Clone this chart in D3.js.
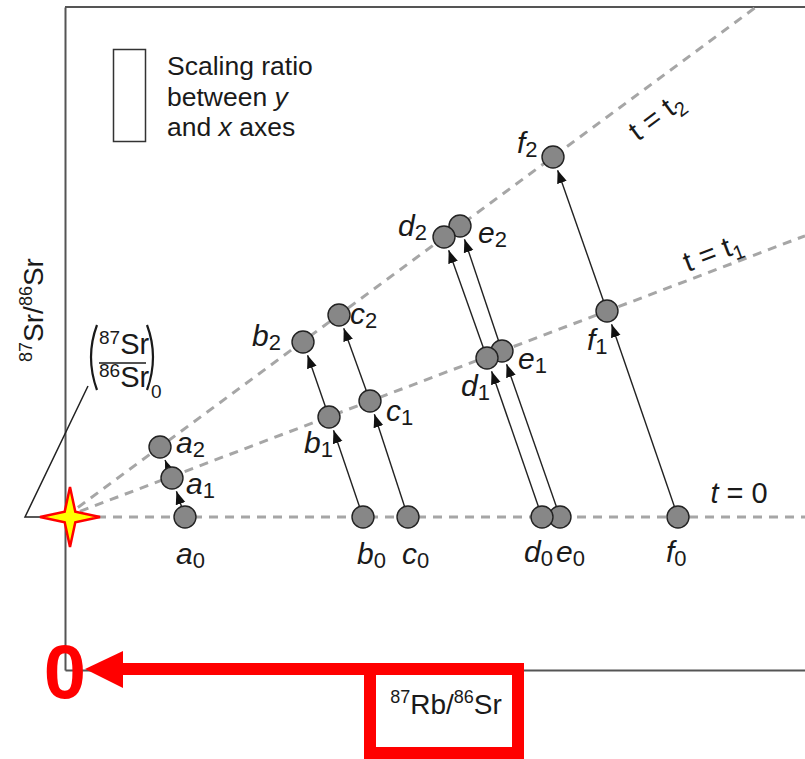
<!DOCTYPE html>
<html>
<head>
<meta charset="utf-8">
<script src="https://cdn.jsdelivr.net/npm/d3@7"></script>
<style>
  body { margin: 0; background: #fff; }
  svg { display: block; font-family: "Liberation Sans", Arial, Helvetica, sans-serif; }
</style>
</head>
<body>
<div id="viz"></div>
<script>
// samples a..f, Rb/Sr and Sr/Sr at three stages (t = 0, t1, t2)
const samples = ['a', 'b', 'c', 'd', 'e', 'f'];
const stages = ['0', '1', '2'];
const initialRatio = 0.700;
const rbSrT0 = [1.20, 2.98, 3.43, 4.77, 4.95, 6.13];
const rbSrT1 = [1.07, 2.64, 3.05, 4.22, 4.37, 5.42];
const rbSrT2 = [0.95, 2.38, 2.74, 3.79, 3.95, 4.88];
const srSrT0 = [0.700, 0.700, 0.700, 0.700, 0.700, 0.700];
const srSrT1 = [0.7039, 0.7100, 0.7116, 0.7159, 0.7166, 0.7206];
const srSrT2 = [0.7070, 0.7175, 0.7202, 0.7280, 0.7291, 0.7360];
const isochronSlopes = [0, 0.0038, 0.00738];
const isochronNames = ['0', '1', '2'];

const width = 805, height = 759;
const margin = { top: 7, right: 0, bottom: 89, left: 65 };
const font = 30;

const svg = d3.select('#viz').append('svg')
  .attr('width', width)
  .attr('height', height);

const x = d3.scaleLinear().domain([0, 7.4]).range([margin.left, width - margin.right]);
const y = d3.scaleLinear().domain([0.6847, 0.751]).range([height - margin.bottom, margin.top]);

svg.append('defs').append('clipPath').attr('id', 'plot')
  .append('rect')
  .attr('x', margin.left).attr('y', margin.top)
  .attr('width', width - margin.left - margin.right)
  .attr('height', height - margin.top - margin.bottom);

svg.append('defs').append('marker')
  .attr('id', 'head')
  .attr('viewBox', '0 -6 13 12')
  .attr('refX', 13).attr('refY', 0)
  .attr('markerUnits', 'userSpaceOnUse')
  .attr('markerWidth', 13).attr('markerHeight', 12)
  .attr('orient', 'auto')
  .append('path').attr('d', 'M0,-5L13,0L0,5Z').attr('fill', '#111');

// frame: left + bottom axes, top border
const axisColor = '#555';
svg.append('g')
  .attr('transform', `translate(${margin.left},0)`)
  .call(d3.axisLeft(y).tickValues([]).tickSizeOuter(0))
  .call(g => g.select('.domain').attr('stroke', axisColor).attr('stroke-width', 2));
svg.append('g')
  .attr('transform', `translate(0,${height - margin.bottom})`)
  .call(d3.axisBottom(x).tickValues([]).tickSizeOuter(0))
  .call(g => g.select('.domain').attr('stroke', axisColor).attr('stroke-width', 2));
svg.append('line')
  .attr('x1', margin.left).attr('x2', width)
  .attr('y1', margin.top).attr('y2', margin.top)
  .attr('stroke', axisColor).attr('stroke-width', 2);

// isochrons
const xMax = x.domain()[1];
svg.append('g').attr('clip-path', 'url(#plot)')
  .selectAll('line')
  .data(isochronSlopes)
  .join('line')
  .attr('x1', x(0)).attr('y1', y(initialRatio))
  .attr('x2', x(xMax)).attr('y2', s => y(initialRatio + s * xMax))
  .attr('stroke', '#a6a6a6')
  .attr('stroke-width', 3)
  .attr('stroke-dasharray', '9,7');

// isochron labels (centre of baseline relative to a point on the line)
const isoLabel = [
  { at: 6.74, dx: 0, dy: -14, italic: true, rotate: false },
  { at: 6.51, dx: 0, dy: -8, italic: false, rotate: true },
  { at: 5.92, dx: 5, dy: 44, italic: false, rotate: true }
];
isochronSlopes.forEach((s, i) => {
  const L = isoLabel[i];
  const px = x(L.at), py = y(initialRatio + s * L.at);
  const ang = -Math.atan((y(initialRatio) - y(initialRatio + s)) / (x(1) - x(0))) * 180 / Math.PI;
  const t = svg.append('text')
    .attr('transform', `translate(${px + L.dx},${py + L.dy}) rotate(${L.rotate ? ang : 0})`)
    .attr('text-anchor', 'middle')
    .attr('font-size', 29)
    .attr('fill', '#1a1a1a');
  t.append('tspan').attr('font-style', L.italic ? 'italic' : 'normal').text('t');
  if (isochronNames[i] === '0') {
    t.append('tspan').text(' = 0');
  } else {
    t.append('tspan').text(' = t');
    t.append('tspan').attr('font-size', 20).attr('dy', 6).text(isochronNames[i]);
  }
});

// points
const rb = [rbSrT0, rbSrT1, rbSrT2];
const sr = [srSrT0, srSrT1, srSrT2];
const points = [];
samples.forEach((name, i) => {
  stages.forEach((st, k) => points.push({ name, st, i, k, x: rb[k][i], y: sr[k][i] }));
});

const r = 11;
const arrows = [];
samples.forEach((name, i) => {
  for (let k = 0; k < 2; k++) {
    arrows.push({ x0: x(rb[k][i]), y0: y(sr[k][i]), x1: x(rb[k + 1][i]), y1: y(sr[k + 1][i]) });
  }
});
svg.append('g')
  .selectAll('line')
  .data(arrows)
  .join('line')
  .each(function (d) {
    const len = Math.hypot(d.x1 - d.x0, d.y1 - d.y0);
    const ux = (d.x1 - d.x0) / len, uy = (d.y1 - d.y0) / len;
    const back = r + 3;
    d3.select(this)
      .attr('x1', d.x0).attr('y1', d.y0)
      .attr('x2', d.x1 - ux * back).attr('y2', d.y1 - uy * back);
  })
  .attr('stroke', '#222')
  .attr('stroke-width', 1.4)
  .attr('marker-end', 'url(#head)');

// star at initial ratio
const cx = x(0) + 5, cy = y(initialRatio);
const R = 30, ri = 7.5;
const starPts = [];
for (let j = 0; j < 8; j++) {
  const a = j * Math.PI / 4;
  const rr = j % 2 === 0 ? R : ri;
  starPts.push([cx + rr * Math.cos(a), cy - rr * Math.sin(a)]);
}

// leader line for initial ratio label
svg.append('path')
  .attr('d', `M88,386L25,${cy}L58,${cy}`)
  .attr('fill', 'none').attr('stroke', '#222').attr('stroke-width', 1.5);

svg.append('path')
  .attr('d', d3.line()(starPts) + 'Z')
  .attr('fill', '#ffff00')
  .attr('stroke', '#ff0000')
  .attr('stroke-width', 2.5)
  .attr('stroke-linejoin', 'miter');

const drawOrder = ['a', 'b', 'c', 'e', 'd', 'f'];
svg.append('g')
  .selectAll('circle')
  .data(points.slice().sort((p, q) => drawOrder.indexOf(p.name) - drawOrder.indexOf(q.name)))
  .join('circle')
  .attr('cx', d => x(d.x))
  .attr('cy', d => y(d.y))
  .attr('r', r)
  .attr('fill', '#878787')
  .attr('stroke', '#222')
  .attr('stroke-width', 1.4);

// point labels: offsets of text start / baseline from the circle centre
const labelOffsets = {
  a: [[-9, 47], [14, 16], [16, 6]],
  b: [[-6, 47], [-25, 36], [-51, 4]],
  c: [[-6, 47], [16, 20], [11, 9]],
  d: [[-18, 45], [-26, 38], [-46, -1]],
  e: [[-4, 45], [16, 18], [18, 17]],
  f: [[-12, 45], [-20, 39], [-36, -4]]
};
svg.append('g')
  .selectAll('text')
  .data(points)
  .join('text')
  .attr('x', d => x(d.x) + labelOffsets[d.name][d.k][0])
  .attr('y', d => y(d.y) + labelOffsets[d.name][d.k][1])
  .attr('font-size', font)
  .attr('fill', '#1a1a1a')
  .each(function (d) {
    const t = d3.select(this);
    t.append('tspan').attr('font-style', 'italic').text(d.name);
    t.append('tspan').attr('font-size', 22).attr('dy', 4).text(d.st);
  });

// legend
svg.append('rect')
  .attr('x', 113.5).attr('y', 49.5).attr('width', 32).attr('height', 92)
  .attr('fill', 'none').attr('stroke', '#333').attr('stroke-width', 1.5);
const legendLines = [['Scaling ratio'], ['between ', 'y'], ['and ', 'x', ' axes']];
legendLines.forEach((parts, i) => {
  const t = svg.append('text')
    .attr('x', 167).attr('y', 75 + i * 30.5)
    .attr('font-size', 26.5).attr('fill', '#1a1a1a');
  parts.forEach((p, j) => t.append('tspan').attr('font-style', j === 1 ? 'italic' : 'normal').text(p));
});

// axis titles
function isoText(sel, mass, el, size, supSize) {
  sel.append('tspan').attr('font-size', supSize).attr('dy', -size * 0.38).text(mass);
  sel.append('tspan').attr('dy', size * 0.38).text(el);
}
const yt = svg.append('text')
  .attr('transform', 'translate(43,310) rotate(-90)')
  .attr('text-anchor', 'middle')
  .attr('font-size', 28).attr('fill', '#1a1a1a');
isoText(yt, '87', 'Sr/', 28, 18);
isoText(yt, '86', 'Sr', 28, 18);

const xt = svg.append('text')
  .attr('x', 446).attr('y', 714)
  .attr('text-anchor', 'middle')
  .attr('font-size', 28).attr('fill', '#1a1a1a');
isoText(xt, '87', 'Rb/', 28, 18);
isoText(xt, '86', 'Sr', 28, 18);

// initial ratio (87Sr/86Sr)0
const num = svg.append('text').attr('x', 99).attr('y', 354).attr('font-size', 29).attr('fill', '#1a1a1a');
isoText(num, '87', 'Sr', 27, 19);
const den = svg.append('text').attr('x', 99).attr('y', 387).attr('font-size', 29).attr('fill', '#1a1a1a');
isoText(den, '86', 'Sr', 27, 19);
svg.append('line').attr('x1', 99).attr('x2', 146).attr('y1', 363).attr('y2', 363)
  .attr('stroke', '#1a1a1a').attr('stroke-width', 1.6);
svg.append('path').attr('d', 'M97,325Q85,357 97,390').attr('fill', 'none').attr('stroke', '#1a1a1a').attr('stroke-width', 2.2);
svg.append('path').attr('d', 'M147,325Q159,357 147,390').attr('fill', 'none').attr('stroke', '#1a1a1a').attr('stroke-width', 2.2);
svg.append('text').attr('x', 151).attr('y', 398).attr('font-size', 19).attr('fill', '#1a1a1a').text('0');

// red annotation
const red = '#ff0000';
svg.append('rect')
  .attr('x', 370).attr('y', 669).attr('width', 148).attr('height', 84)
  .attr('fill', 'none').attr('stroke', red).attr('stroke-width', 12);
svg.append('line')
  .attr('x1', 120).attr('x2', 376).attr('y1', 669).attr('y2', 669)
  .attr('stroke', red).attr('stroke-width', 12);
svg.append('path')
  .attr('d', 'M85,669L123,651L123,688Z')
  .attr('fill', red);
svg.append('text')
  .attr('x', x(0)).attr('y', 698)
  .attr('text-anchor', 'middle')
  .attr('font-size', 76).attr('font-weight', 'bold')
  .attr('fill', red)
  .text('0');
</script>
</body>
</html>
